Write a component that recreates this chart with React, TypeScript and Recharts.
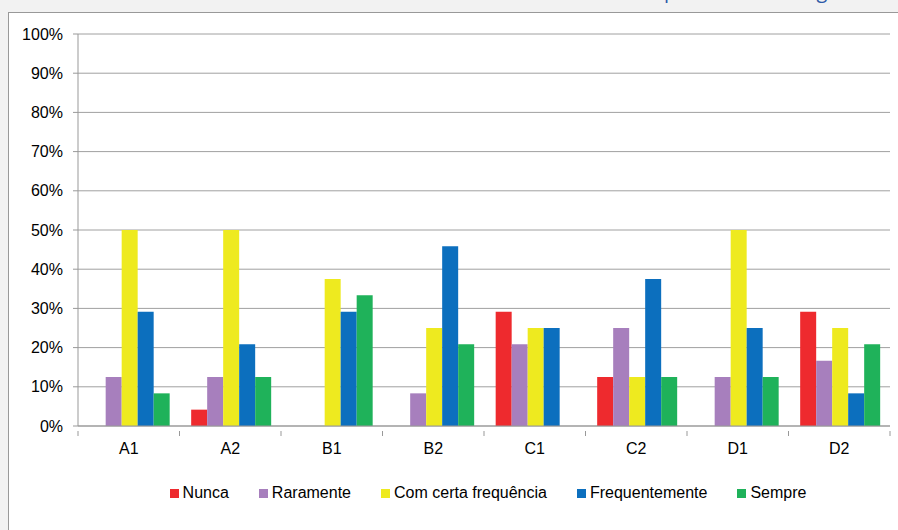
import React from 'react';
import { BarChart, Bar, XAxis, YAxis, CartesianGrid, Legend } from 'recharts';

const categories = ['A1', 'A2', 'B1', 'B2', 'C1', 'C2', 'D1', 'D2'];
const nunca = [0, 4.17, 0, 0, 29.17, 12.5, 0, 29.17];
const raramente = [12.5, 12.5, 0, 8.33, 20.83, 25, 12.5, 16.67];
const comCerta = [50, 50, 37.5, 25, 25, 12.5, 50, 25];
const frequentemente = [29.17, 20.83, 29.17, 45.83, 25, 37.5, 25, 8.33];
const sempre = [8.33, 12.5, 33.33, 20.83, 0, 12.5, 12.5, 20.83];
const yTicks = [0, 10, 20, 30, 40, 50, 60, 70, 80, 90, 100];

const data = categories.map((name, i) => ({
    name,
    Nunca: nunca[i],
    Raramente: raramente[i],
    'Com certa frequência': comCerta[i],
    Frequentemente: frequentemente[i],
    Sempre: sempre[i],
}));

const series = [
    { key: 'Nunca', color: '#ee2a2e' },
    { key: 'Raramente', color: '#a77fbd' },
    { key: 'Com certa frequência', color: '#eeea1f' },
    { key: 'Frequentemente', color: '#0c6fbe' },
    { key: 'Sempre', color: '#1fb25a' },
];

const TICK_SIZE = 5;
const TICK_MARGIN = 10;

// category label in the middle, tick marks on the band edges
const CategoryTick = (props: any) => {
    const { x, y, payload, index, visibleTicksCount } = props;
    const half = payload.offset || 0;
    const axisY = y - TICK_MARGIN;
    return (
        <g>
            <line x1={x - half} x2={x - half} y1={axisY} y2={axisY + TICK_SIZE} stroke="#999" />
            {index === visibleTicksCount - 1 && (
                <line x1={x + half} x2={x + half} y1={axisY} y2={axisY + TICK_SIZE} stroke="#999" />
            )}
            <text x={x} y={axisY + TICK_SIZE + 7} dy="0.71em" textAnchor="middle" fill="#000" fontSize={16}>
                {payload.value}
            </text>
        </g>
    );
};

const App: React.FC = () => {
    return (
        <div style={{ position: 'absolute', left: 0, top: 0, width: 898, height: 530, background: '#f2f2f2', overflow: 'hidden', fontFamily: '"Liberation Sans", Arial, sans-serif' }}>
            <div style={{ position: 'absolute', left: 664, top: -23, fontFamily: '"Open Sans", sans-serif', fontSize: 20, color: '#2e5aa8', whiteSpace: 'nowrap' }}>
                por cada estratégia
            </div>
            <div style={{ position: 'absolute', left: 8, top: 12, width: 900, height: 530, background: '#fff', border: '1px solid #999' }} />
            <div style={{ position: 'absolute', left: 0, top: 0 }}>
                <BarChart
                    width={898}
                    height={530}
                    data={data}
                    margin={{ top: 34, right: 8, left: 8, bottom: 28 }}
                    barCategoryGap="11.5%"
                    barGap={0}
                >
                    <CartesianGrid vertical={false} stroke="#a0a0a0" />
                    <XAxis
                        dataKey="name"
                        height={58}
                        tickLine={false}
                        axisLine={{ stroke: '#999' }}
                        tickSize={TICK_SIZE}
                        tickMargin={TICK_MARGIN}
                        tick={<CategoryTick />}
                        interval={0}
                    />
                    <YAxis
                        width={70}
                        domain={[0, 100]}
                        ticks={yTicks}
                        tickFormatter={(v: number) => `${v}%`}
                        axisLine={{ stroke: '#999' }}
                        tickLine={{ stroke: '#999' }}
                        tickSize={5}
                        tickMargin={10}
                        tick={{ fill: '#000', fontSize: 16 }}
                        interval={0}
                    />
                    <Legend
                        verticalAlign="bottom"
                        iconType="square"
                        iconSize={9}
                        itemSorter={null as any}
                        wrapperStyle={{ left: 52, fontSize: 16 }}
                        formatter={(value: string, _entry: any, index: number) => (
                            <span style={{ color: '#000', marginRight: index === series.length - 1 ? 0 : 20 }}>{value}</span>
                        )}
                    />
                    {series.map((s) => (
                        <Bar key={s.key} dataKey={s.key} fill={s.color} isAnimationActive={false} />
                    ))}
                </BarChart>
            </div>
        </div>
    );
};

export default App;
